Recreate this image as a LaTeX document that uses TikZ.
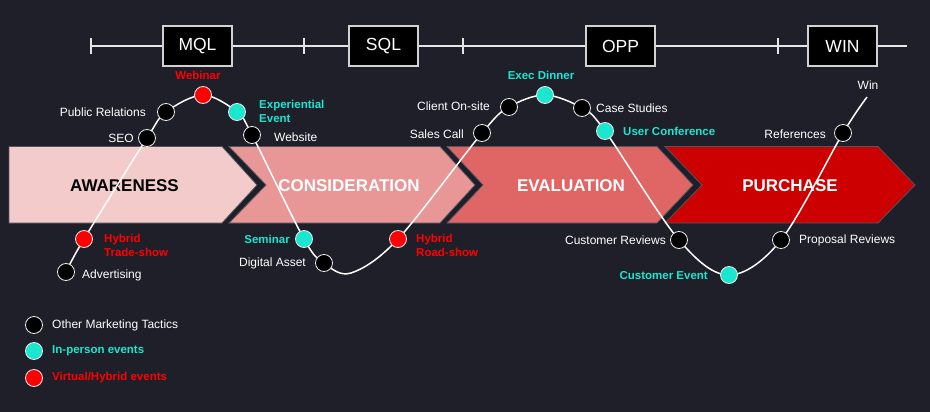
\documentclass[tikz,border=0pt]{standalone}
\usepackage{fontspec}
\setmainfont{Liberation Sans}
\definecolor{bgc}{RGB}{30,31,41}
\definecolor{tealc}{RGB}{27,230,208}
\definecolor{vred}{RGB}{255,0,0}
\definecolor{awc}{RGB}{243,203,203}
\definecolor{coc}{RGB}{232,150,150}
\definecolor{evc}{RGB}{224,102,102}
\definecolor{puc}{RGB}{204,0,0}
\definecolor{edgec}{RGB}{85,85,95}
\begin{document}
\begin{tikzpicture}[x=1pt,y=-1pt,
  tdot/.style={circle, draw=white!85!gray, line width=0.8pt, minimum size=17pt, inner sep=0pt},
  bdot/.style={tdot, fill=black},
  cdot/.style={tdot, fill=tealc},
  rdot/.style={tdot, fill=vred},
  wlbl/.style={text=white, font=\fontsize{12}{14}\selectfont, inner sep=0pt},
  clbl/.style={text=tealc, font=\bfseries\fontsize{11.5}{14}\selectfont, inner sep=0pt, align=left},
  rlbl/.style={text=vred, font=\bfseries\fontsize{11.5}{14}\selectfont, inner sep=0pt, align=left},
  stagebox/.style={draw=edgec, line width=0.8pt},
  stagelbl/.style={font=\bfseries\fontsize{17}{20}\selectfont, inner sep=0pt},
  gatebox/.style={draw=white!65!gray, fill=black, line width=1.2pt, minimum width=69pt, minimum height=40pt, text=white, font=\fontsize{17.5}{20}\selectfont, inner sep=0pt},
  tline/.style={draw=white!80!gray, line width=1.3pt},
  curve/.style={draw=white, line width=1.5pt}
]
\fill[bgc] (0,0) rectangle (930,412);
\useasboundingbox (0,0) rectangle (930,412);

% timeline
\coordinate (t0) at (91,46);
\coordinate (t1) at (304,46);
\coordinate (t2) at (463,46);
\coordinate (t3) at (778,46);
\coordinate (tend) at (907,46);
\node[gatebox] (mql) at (197.5,46) {MQL};
\node[gatebox] (sql) at (383.5,46) {SQL};
\node[gatebox] (opp) at (620.5,46) {OPP};
\node[gatebox] (win) at (842.5,46) {WIN};
\draw[tline] (t0) -- (mql.west) (mql.east) -- (sql.west) (sql.east) -- (opp.west) (opp.east) -- (win.west) (win.east) -- (tend);
\foreach \t in {t0,t1,t2,t3} \draw[tline] ([yshift=-8pt]\t) -- ([yshift=8pt]\t);

% stages
\filldraw[stagebox, fill=awc] (9,146.5) -- (222,146.5) -- (257,185) -- (222,223) -- (9,223) -- cycle;
\filldraw[stagebox, fill=coc] (229,146.5) -- (440,146.5) -- (475,185) -- (440,223) -- (229,223) -- (266,185) -- cycle;
\filldraw[stagebox, fill=evc] (447,146.5) -- (657,146.5) -- (693,185) -- (657,223) -- (447,223) -- (483,185) -- cycle;
\filldraw[stagebox, fill=puc] (665,146.5) -- (878,146.5) -- (915,185) -- (878,223) -- (665,223) -- (702,185) -- cycle;
\node[stagelbl, text=black] (aw) at (124.5,186) {AWARENESS};
\node[stagelbl, text=white] (co) at (349,186) {CONSIDERATION};
\node[stagelbl, text=white] (ev) at (571,186) {EVALUATION};
\node[stagelbl, text=white] (pu) at (790,186) {PURCHASE};

% curve points
\coordinate (adv) at (66,272);
\coordinate (hts) at (84,239);
\coordinate (seo) at (147,138);
\coordinate (pr) at (166,112);
\coordinate (web) at (203,95);
\coordinate (exp) at (237,112);
\coordinate (site) at (252,135);
\coordinate (sem) at (304,239);
\coordinate (dig) at (324,263);
\coordinate (tr1) at (351,273);
\coordinate (hrs) at (398,239);
\coordinate (sales) at (482,133);
\coordinate (client) at (509,107);
\coordinate (exec) at (545,95);
\coordinate (case) at (582,108);
\coordinate (user) at (605,131);
\coordinate (crev) at (679,240);
\coordinate (cev) at (729,275);
\coordinate (prev) at (781,240);
\coordinate (refs) at (843,133);
\coordinate (wend) at (867,97);

\draw[curve] plot[smooth, tension=0.55] coordinates {(adv) (hts) (seo) (pr) (web) (exp) (site) (sem) (dig) (tr1) (hrs) (sales) (client) (exec) (case) (user) (crev) (cev) (prev) (refs) (wend)};

% dots
\node[bdot] (nadv) at (adv) {};
\node[rdot] (nhts) at (hts) {};
\node[bdot] (nseo) at (seo) {};
\node[bdot] (npr) at (pr) {};
\node[rdot] (nweb) at (web) {};
\node[cdot] (nexp) at (exp) {};
\node[bdot] (nsite) at (site) {};
\node[cdot] (nsem) at (sem) {};
\node[bdot] (ndig) at (dig) {};
\node[rdot] (nhrs) at (hrs) {};
\node[bdot] (nsales) at (sales) {};
\node[bdot] (nclient) at (client) {};
\node[cdot] (nexec) at (exec) {};
\node[bdot] (ncase) at (case) {};
\node[cdot] (nuser) at (user) {};
\node[bdot] (ncrev) at (crev) {};
\node[cdot] (ncev) at (cev) {};
\node[bdot] (nprev) at (prev) {};
\node[bdot] (nrefs) at (refs) {};

% labels
\node[wlbl, anchor=west] (ladv) at (82,275) {Advertising};
\node[rlbl, anchor=west] (lhts) at (104,245) {Hybrid\\Trade-show};
\node[wlbl, anchor=east] (lseo) at (134,138) {SEO};
\node[wlbl, anchor=east] (lpr) at (146,112) {Public Relations};
\node[rlbl] (lweb) at (198,75) {Webinar};
\node[clbl, anchor=west] (lexp) at (259,111) {Experiential\\Event};
\node[wlbl, anchor=west] (lsite) at (274,137) {Website};
\node[clbl, anchor=east] (lsem) at (290,239) {Seminar};
\node[wlbl, anchor=east] (ldig) at (306,263) {Digital Asset};
\node[rlbl, anchor=west] (lhrs) at (416,245) {Hybrid\\Road-show};
\node[wlbl, anchor=east] (lsales) at (464,134) {Sales Call};
\node[wlbl, anchor=east] (lclient) at (490,106) {Client On-site};
\node[clbl] (lexec) at (541,75) {Exec Dinner};
\node[wlbl, anchor=west] (lcase) at (596,108) {Case Studies};
\node[clbl, anchor=west] (luser) at (623,131) {User Conference};
\node[wlbl, anchor=east] (lcrev) at (666,240) {Customer Reviews};
\node[clbl, anchor=east] (lcev) at (708,276) {Customer Event};
\node[wlbl, anchor=west] (lprev) at (799,240) {Proposal Reviews};
\node[wlbl, anchor=east] (lrefs) at (826,134) {References};
\node[wlbl] (lwin) at (868,85) {Win};

% legend
\node[bdot] (k1) at (34,325) {};
\node[cdot] (k2) at (34,351) {};
\node[rdot] (k3) at (34,378) {};
\node[wlbl, anchor=west] (lk1) at (52,325) {Other Marketing Tactics};
\node[clbl, anchor=west] (lk2) at (52,351) {In-person events};
\node[rlbl, anchor=west] (lk3) at (52,378) {Virtual/Hybrid events};
\end{tikzpicture}
\end{document}
